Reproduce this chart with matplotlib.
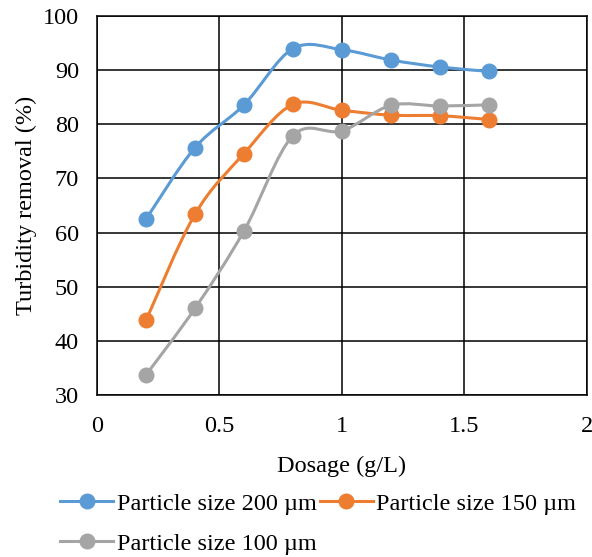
import numpy as np
import matplotlib
matplotlib.use("Agg")
import matplotlib.pyplot as plt
from matplotlib.path import Path
from matplotlib.patches import PathPatch
from matplotlib.lines import Line2D

plt.rcParams['font.family'] = ['Liberation Serif', 'DejaVu Serif']

dosage = [0.2, 0.4, 0.6, 0.8, 1.0, 1.2, 1.4, 1.6]
size_200 = [62.5, 75.7, 83.6, 94.0, 93.8, 91.9, 90.6, 89.8]
size_150 = [43.8, 63.4, 74.6, 83.7, 82.6, 81.7, 81.6, 80.9]
size_100 = [33.7, 46.0, 60.3, 77.9, 78.8, 83.5, 83.4, 83.6]

series = [
    ("Particle size 200 \u00b5m", size_200, "#5B9BD5"),
    ("Particle size 150 \u00b5m", size_150, "#ED7D31"),
    ("Particle size 100 \u00b5m", size_100, "#A5A5A5"),
]

FS = 17.5


def smooth_path(x, y):
    # excel-like smoothed line: catmull-rom as cubic bezier
    p = np.column_stack([x, y])
    n = len(p)
    verts = [p[0]]
    codes = [Path.MOVETO]
    for i in range(n - 1):
        p0 = p[i - 1] if i > 0 else p[i]
        p3 = p[i + 2] if i + 2 < n else p[i + 1]
        c1 = p[i] + (p[i + 1] - p0) / 6
        c2 = p[i + 1] - (p3 - p[i]) / 6
        verts += [c1, c2, p[i + 1]]
        codes += [Path.CURVE4] * 3
    return Path(verts, codes)


fig = plt.figure(figsize=(5.92, 5.57), dpi=100)
ax = fig.add_axes([0.164, 0.291, 0.827, 0.680])

handles = []
for label, vals, col in series:
    ax.add_patch(PathPatch(smooth_path(dosage, vals), facecolor='none',
                           edgecolor=col, lw=2.2, zorder=3))
    ax.plot(dosage, vals, 'o', color=col, markersize=10.5, zorder=4)
    handles.append(Line2D([], [], color=col, lw=2.2, marker='o', markersize=10.5, label=label))

ax.set_xlim(0, 2)
ax.set_ylim(30, 100)
ax.set_xticks([0, 0.5, 1, 1.5, 2])
ax.set_xticklabels(['0', '0.5', '1', '1.5', '2'])
ax.set_yticks(range(30, 101, 10))
ax.grid(True, color='black', lw=1.1)
ax.set_axisbelow(True)
for s in ax.spines.values():
    s.set_color('black')
    s.set_linewidth(1.1)
ax.tick_params(length=0, labelsize=FS)
ax.tick_params(axis='x', pad=15)
ax.tick_params(axis='y', pad=13)
ax.set_xlabel("Dosage (g/L)", fontsize=FS, labelpad=14)
ax.set_ylabel("Turbidity removal (%)", fontsize=FS, labelpad=4)

# column-wise fill: 200 & 100 in col 1, 150 in col 2
order = [handles[0], handles[2], handles[1]]
fig.legend(handles=order, loc='lower left', bbox_to_anchor=(0.065, -0.035), ncol=2,
           frameon=False, fontsize=FS, handlelength=2.18, handletextpad=0.16,
           columnspacing=0.1, labelspacing=0.74)

fig.savefig("out.png", dpi=100)
